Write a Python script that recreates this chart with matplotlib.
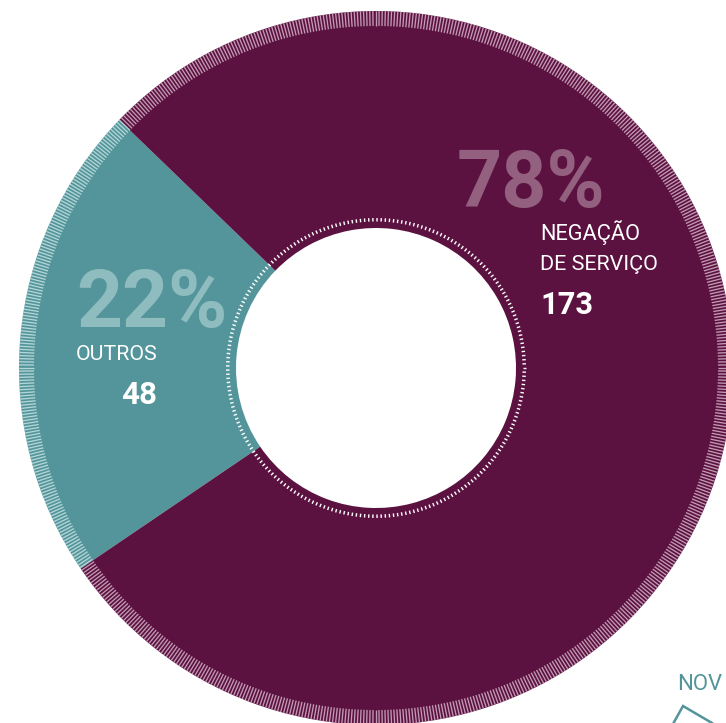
import numpy as np
import matplotlib
matplotlib.use("Agg")
import matplotlib.pyplot as plt
from matplotlib import font_manager
from matplotlib.collections import LineCollection

# data
labels = ["OUTROS", "NEGAÇÃO\nDE SERVIÇO"]
values = [48, 173]
percents = ["22%", "78%"]
colors = ["#53959a", "#5c1241"]
stripe_colors = ["#b3d6d7", "#c29ab2"]
pct_colors = ["#8fbdbf", "#93607f"]

names = {f.name for f in font_manager.fontManager.ttflist}
FONT = "DejaVu Sans"
for cand in ["Liberation Sans Narrow", "Roboto"]:
    if cand in names:
        FONT = cand
        break

W, H = 726, 723
fig = plt.figure(figsize=(W / 100, H / 100), dpi=100)
ax = fig.add_axes([0, 0, 1, 1])

cx, cy = 376, H - 368
R, r_in = 357, 140
start = 136

ax.pie(values, colors=colors, startangle=start, counterclock=True,
       radius=R, center=(cx, cy), wedgeprops=dict(width=R - r_in, linewidth=0))

# striped outer band, one colour per wedge
fracs = np.cumsum(values) / sum(values)
segs, cols = [], []
for a in np.arange(0, 360, 0.5):
    rel = ((a - start) % 360) / 360
    idx = min(int(np.searchsorted(fracs, rel, side="right")), len(values) - 1)
    t = np.radians(a)
    segs.append([(cx + 342 * np.cos(t), cy + 342 * np.sin(t)),
                 (cx + R * np.cos(t), cy + R * np.sin(t))])
    cols.append(stripe_colors[idx])
ax.add_collection(LineCollection(segs, colors=cols, linewidths=0.95))

# dotted ring around the hole
dots = []
for a in np.arange(0, 360, 1.6):
    t = np.radians(a)
    dots.append([(cx + 146.5 * np.cos(t), cy + 146.5 * np.sin(t)),
                 (cx + 150 * np.cos(t), cy + 150 * np.sin(t))])
ax.add_collection(LineCollection(dots, colors="white", linewidths=1.0))

# labels: (text, x, baseline y, ha, colour, bold, target width px)
texts = [
    (percents[0], 76, 327, "left", pct_colors[0], True, 151),
    (labels[0], 76, 360, "left", "white", False, 82),
    (str(values[0]), 157, 404, "right", "white", True, 36),
    (percents[1], 457, 207, "left", pct_colors[1], True, 149),
    (labels[1].split("\n")[0], 540, 240, "left", "white", False, 100),
    (labels[1].split("\n")[1], 540, 270, "left", "white", False, 118),
    (str(values[1]), 540, 314, "left", "white", True, 53),
    ("NOV", 677, 690, "left", "#53959a", False, 45),
]
objs = []
for s, x, y, ha, c, bold, w in texts:
    t = ax.text(x, H - y, s, color=c, fontsize=20, family=FONT,
                fontweight="bold" if bold else "normal",
                ha=ha, va="baseline")
    objs.append((t, w))

fig.canvas.draw()
renderer = fig.canvas.get_renderer()
for t, w in objs:
    cur = t.get_window_extent(renderer).width
    t.set_fontsize(t.get_fontsize() * w / cur)

# partial decoration at the bottom right
ax.plot([673, 683, 712], [H - 724, H - 706, H - 723], color="#53959a",
        lw=1.8, solid_joinstyle="miter", clip_on=False)

ax.set_xlim(0, W)
ax.set_ylim(0, H)
ax.set_aspect("auto")
ax.axis("off")

fig.savefig("out.png", dpi=100, facecolor="white")
